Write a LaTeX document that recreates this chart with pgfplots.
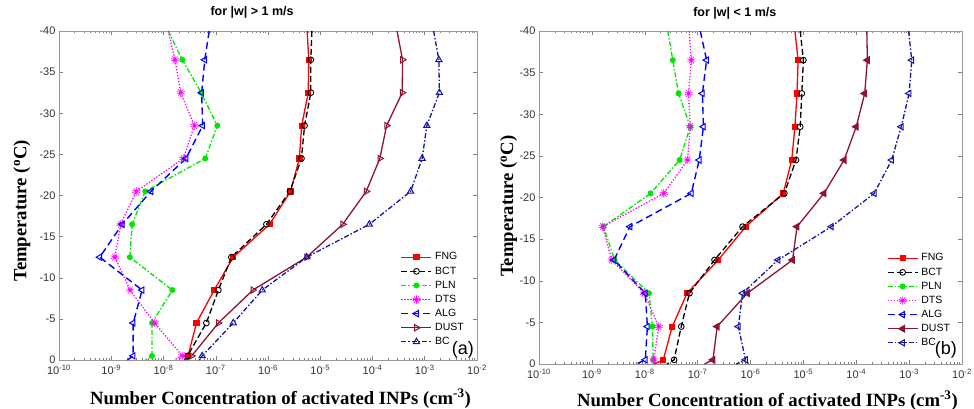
\documentclass[border=0pt]{standalone}
\usepackage{pgfplots}
\pgfplotsset{compat=1.18}
\usepackage{pgfplotstable}
\usepackage{fontspec}
\setmainfont{Liberation Serif}
\newfontfamily\arial{Liberation Sans}
\usetikzlibrary{plotmarks}

\definecolor{cFNG}{RGB}{255,0,0}
\definecolor{cPLN}{RGB}{0,230,0}
\definecolor{cDTS}{RGB}{255,0,255}
\definecolor{cALG}{RGB}{0,0,255}
\definecolor{cDUST}{RGB}{140,20,50}
\definecolor{cBC}{RGB}{20,20,160}

% log10 of concentration (cm^-3)
\pgfplotstableread{
y     FNG    BCT    PLN    DTS    ALG    DUST   BC
-40   -5.25  -5.16  -7.91  -7.91  -7.125 -3.53  -2.83
-36.5 -5.22  -5.18  -7.64  -7.78  -7.21  -3.425 -2.73
-32.5 -5.23  -5.18  -7.28  -7.67  -7.27  -3.43  -2.72
-28.5 -5.355 -5.30  -6.97  -7.41  -7.25  -3.73  -2.96
-24.5 -5.40  -5.36  -7.20  -7.62  -7.57  -3.86  -3.05
-20.5 -5.57  -5.58  -8.35  -8.52  -8.24  -4.12  -3.27
-16.5 -5.97  -6.03  -8.60  -8.82  -8.79  -4.57  -4.06
-12.5 -6.665 -6.70  -8.645 -8.93  -9.22  -5.26  -5.26
-8.5  -7.03  -6.95  -7.83  -8.64  -8.41  -6.29  -6.11
-4.5  -7.37  -7.18  -8.22  -8.17  -8.58  -6.95  -6.665
-0.5  -7.53  -7.54  -8.22  -7.64  -8.58  -7.46  -7.26
0     -7.56  -7.60  -8.345 -7.80  -8.69  -7.56  -7.32
}\dataA

\pgfplotstableread{
y     FNG    BCT    PLN    DTS    ALG    DUST   BC
-40   -5.16  -5.06  -7.565 -7.16  -6.95  -3.80  -3.01
-36.5 -5.10  -5.00  -7.47  -7.12  -6.83  -3.79  -2.95
-32.5 -5.12  -5.03  -7.36  -7.17  -6.91  -3.84  -3.00
-28.5 -5.16  -5.06  -7.14  -7.14  -6.89  -4.00  -3.15
-24.5 -5.22  -5.14  -7.34  -7.19  -6.97  -4.23  -3.33
-20.5 -5.38  -5.36  -7.89  -7.64  -7.12  -4.61  -3.66
-16.5 -6.09  -6.15  -8.78  -8.795 -8.28  -5.12  -4.47
-12.5 -6.61  -6.68  -8.57  -8.625 -8.58  -5.205 -5.48
-8.5  -7.20  -7.155 -7.92  -8.01  -7.99  -6.06  -6.15
-4.5  -7.48  -7.31  -7.855 -7.735 -7.95  -6.63  -6.23
-0.5  -7.65  -7.445 -7.84  -7.83  -7.99  -6.71  -6.095
0     -7.82  -7.58  -7.84  -7.81  -8.16  -6.87  -6.27
}\dataB

\pgfplotsset{
  sFNG/.style={color=cFNG, solid, line width=1.3pt, mark=square*, mark size=2.6pt, mark options={solid, fill=cFNG, line width=0.8pt}},
  sBCT/.style={color=black, dash pattern=on 6pt off 3pt, line width=1.3pt, mark=o, mark size=2.9pt, mark options={solid, line width=0.9pt}},
  sPLN/.style={color=cPLN, dash pattern=on 5pt off 2pt on 1.5pt off 2pt, line width=1.3pt, mark=*, mark size=2.3pt, mark options={solid, fill=cPLN}},
  sDTS/.style={color=cDTS, dash pattern=on 1.3pt off 1.7pt, line width=1.3pt, mark=10-pointed star, mark size=4.2pt, mark options={solid, fill=cDTS, line width=0.6pt}},
  sALG/.style={color=cALG, dash pattern=on 7pt off 4pt, line width=1.4pt, mark=triangle, mark size=3.6pt, mark options={solid, rotate=90, line width=1pt}},
  sDUSTa/.style={color=cDUST, solid, line width=1.3pt, mark=triangle, mark size=3.6pt, mark options={solid, rotate=-90, line width=1pt}},
  sBCa/.style={color=cBC, dash pattern=on 5pt off 2pt on 1.5pt off 2pt, line width=1.3pt, mark=triangle, mark size=3.6pt, mark options={solid, line width=1pt}},
  sDUSTb/.style={color=cDUST, solid, line width=1.3pt, mark=triangle*, mark size=3.6pt, mark options={solid, rotate=90, fill=cDUST}},
  sBCb/.style={color=cBC, dash pattern=on 5pt off 2pt on 1.5pt off 2pt, line width=1.3pt, mark=triangle, mark size=3.6pt, mark options={solid, rotate=90, line width=1pt}},
  inpaxis/.style={
    scale only axis,
    xmin=-10, xmax=-2, ymin=-40, ymax=0, y dir=reverse,
    xtick={-10,-9,-8,-7,-6,-5,-4,-3,-2},
    xticklabels={10\textsuperscript{-10},10\textsuperscript{-9},10\textsuperscript{-8},10\textsuperscript{-7},10\textsuperscript{-6},10\textsuperscript{-5},10\textsuperscript{-4},10\textsuperscript{-3},10\textsuperscript{-2}},
    minor xtick={-9.69897,-9.52288,-9.39794,-9.30103,-9.22185,-9.1549,-9.09691,-9.04576,
                 -8.69897,-8.52288,-8.39794,-8.30103,-8.22185,-8.1549,-8.09691,-8.04576,
                 -7.69897,-7.52288,-7.39794,-7.30103,-7.22185,-7.1549,-7.09691,-7.04576,
                 -6.69897,-6.52288,-6.39794,-6.30103,-6.22185,-6.1549,-6.09691,-6.04576,
                 -5.69897,-5.52288,-5.39794,-5.30103,-5.22185,-5.1549,-5.09691,-5.04576,
                 -4.69897,-4.52288,-4.39794,-4.30103,-4.22185,-4.1549,-4.09691,-4.04576,
                 -3.69897,-3.52288,-3.39794,-3.30103,-3.22185,-3.1549,-3.09691,-3.04576,
                 -2.69897,-2.52288,-2.39794,-2.30103,-2.22185,-2.1549,-2.09691,-2.04576},
    ytick={-40,-35,-30,-25,-20,-15,-10,-5,0},
    yticklabels={-40,-35,-30,-25,-20,-15,-10,-5,0},
    tick align=inside, major tick length=4pt, minor tick length=2.2pt,
    tick style={gray, line width=0.5pt},
    axis line style={gray!80, line width=0.7pt},
    ticklabel style={font=\arial\fontsize{11}{11}\selectfont, text=black!80},
    xticklabel style={yshift=-2pt},
    xlabel={\bfseries Number Concentration of activated INPs (cm\textsuperscript{-3})},
    ylabel={\bfseries Temperature (\textsuperscript{o}C)},
    label style={font=\fontsize{18.7}{18.7}\selectfont},
    title style={font=\arial\bfseries\fontsize{12.5}{12.5}\selectfont, anchor=base},
    legend cell align=left,
    legend image code/.code={\draw[mark repeat=2,mark phase=2,##1] plot coordinates {(0pt,0pt) (15pt,0pt) (30pt,0pt)};},
    legend style={draw=none, fill=none, anchor=north west,
      font=\arial\fontsize{10.5}{10.5}\selectfont,
      nodes={inner sep=1pt, text height=7pt, text depth=1.5pt},
      row sep=3.6pt, column sep=2pt},
  }
}

\newcommand{\series}[3]{%
  \addplot[#3, mark=none, forget plot] table[x=#2, y=y] {#1};
  \addplot[#3, only marks, restrict y to domain=-39:-0.2, forget plot] table[x=#2, y=y] {#1};
}

\begin{document}
\begin{tikzpicture}
\useasboundingbox (0,0) rectangle (974pt,409pt);

\begin{axis}[inpaxis,
  at={(59pt,49pt)}, anchor=south west, width=418pt, height=329pt,
  title={for |w| > 1 m/s},
  title style={at={(axis description cs:0.462,1)}, yshift=9pt},
  xlabel style={at={(axis description cs:0.53,0)}, anchor=base, yshift=-44pt},
  ylabel style={at={(axis description cs:-0.078,0.453)}, anchor=base},
  legend style={at={(axis description cs:0.81,0.335)}},
]
\series{\dataA}{FNG}{sFNG}
\series{\dataA}{BCT}{sBCT}
\series{\dataA}{PLN}{sPLN}
\series{\dataA}{DTS}{sDTS}
\series{\dataA}{ALG}{sALG}
\series{\dataA}{DUST}{sDUSTa}
\series{\dataA}{BC}{sBCa}
\addlegendimage{sFNG}\addlegendentry{FNG}
\addlegendimage{sBCT}\addlegendentry{BCT}
\addlegendimage{sPLN}\addlegendentry{PLN}
\addlegendimage{sDTS}\addlegendentry{DTS}
\addlegendimage{sALG}\addlegendentry{ALG}
\addlegendimage{sDUSTa}\addlegendentry{DUST}
\addlegendimage{sBCa}\addlegendentry{BC}
\node[font=\arial\fontsize{18}{18}\selectfont] at (axis description cs:0.966,0.03) {(a)};
\end{axis}

\begin{axis}[inpaxis,
  at={(539pt,45pt)}, anchor=south west, width=423pt, height=333pt,
  title={for |w| < 1 m/s},
  title style={at={(axis description cs:0.463,1)}, yshift=9pt},
  xlabel style={at={(axis description cs:0.54,0)}, anchor=base, yshift=-42pt},
  ylabel style={at={(axis description cs:-0.061,0.474)}, anchor=base},
  legend style={at={(axis description cs:0.815,0.34)}},
]
\series{\dataB}{FNG}{sFNG}
\series{\dataB}{BCT}{sBCT}
\series{\dataB}{PLN}{sPLN}
\series{\dataB}{DTS}{sDTS}
\series{\dataB}{ALG}{sALG}
\series{\dataB}{DUST}{sDUSTb}
\series{\dataB}{BC}{sBCb}
\addlegendimage{sFNG}\addlegendentry{FNG}
\addlegendimage{sBCT}\addlegendentry{BCT}
\addlegendimage{sPLN}\addlegendentry{PLN}
\addlegendimage{sDTS}\addlegendentry{DTS}
\addlegendimage{sALG}\addlegendentry{ALG}
\addlegendimage{sDUSTb}\addlegendentry{DUST}
\addlegendimage{sBCb}\addlegendentry{BC}
\node[font=\arial\fontsize{18}{18}\selectfont] at (axis description cs:0.962,0.042) {(b)};
\end{axis}
\end{tikzpicture}
\end{document}
